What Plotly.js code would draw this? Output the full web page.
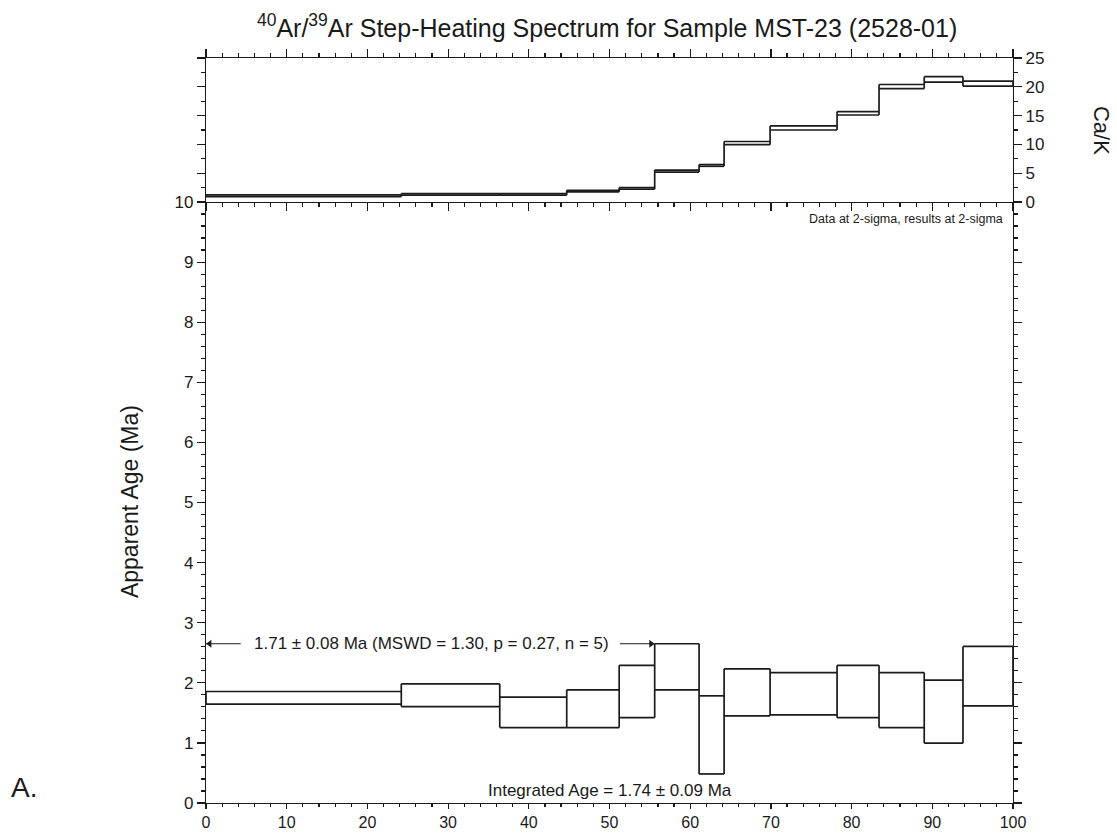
<!DOCTYPE html>
<html>
<head>
<meta charset="utf-8">
<script src="https://cdn.plot.ly/plotly-3.0.1.min.js"></script>
<style>
  html, body { margin: 0; padding: 0; background: #fff; }
  #chart { width: 1117px; height: 834px; }
</style>
</head>
<body>
<div id="chart"></div>
<script>
// Cumulative %39Ar released: step edges (13 heating steps)
const cumArEdges = [0, 24.2, 36.4, 44.7, 51.2, 55.6, 61.1, 64.2, 69.9, 78.2, 83.4, 89.0, 93.8, 100];

// Apparent age (Ma), 2-sigma upper and lower bounds per step
const ageHigh = [1.855, 1.983, 1.76, 1.883, 2.29, 2.65, 1.783, 2.233, 2.17, 2.29, 2.17, 2.045, 2.605];
const ageLow  = [1.645, 1.605, 1.255, 1.255, 1.42, 1.883, 0.483, 1.45, 1.467, 1.42, 1.255, 0.995, 1.617];

// Ca/K ratio, upper and lower bounds per step
const caKHigh = [1.22, 1.47, 1.47, 2.04, 2.52, 5.55, 6.5, 10.5, 13.2, 15.7, 20.4, 21.75, 21.0];
const caKLow  = [0.94, 1.19, 1.19, 1.76, 2.22, 5.2, 6.2, 9.95, 12.5, 15.1, 19.7, 20.8, 20.1];

// Plateau steps (indices) and summary text
const plateauSteps = [0, 1, 2, 3, 4];
const plateauLabel = "1.71 ± 0.08 Ma (MSWD = 1.30, p = 0.27, n = 5)";
const integratedLabel = "Integrated Age = 1.74 ± 0.09 Ma";
const noteLabel = "Data at 2-sigma, results at 2-sigma";

const xTicks = [0, 10, 20, 30, 40, 50, 60, 70, 80, 90, 100];
const ageTicks = [0, 1, 2, 3, 4, 5, 6, 7, 8, 9, 10];
const caKTicks = [0, 5, 10, 15, 20, 25];

// Build a spectrum outline: horizontal top/bottom for each step,
// vertical connectors at each edge spanning adjacent bounds.
function spectrumPath(edges, hi, lo) {
  const xs = [], ys = [];
  const n = hi.length;
  for (let i = 0; i < n; i++) {
    xs.push(edges[i], edges[i + 1], null);
    ys.push(hi[i], hi[i], null);
    xs.push(edges[i], edges[i + 1], null);
    ys.push(lo[i], lo[i], null);
  }
  for (let k = 0; k <= n; k++) {
    const vals = [];
    if (k > 0) vals.push(hi[k - 1], lo[k - 1]);
    if (k < n) vals.push(hi[k], lo[k]);
    xs.push(edges[k], edges[k], null);
    ys.push(Math.min(...vals), Math.max(...vals), null);
  }
  return { xs, ys };
}

const agePath = spectrumPath(cumArEdges, ageHigh, ageLow);
const caKPath = spectrumPath(cumArEdges, caKHigh, caKLow);

const ink = '#1a1a1a';
const font = "'Liberation Sans', Arial, Helvetica, sans-serif";
const lineStyle = { color: ink, width: 1.7 };

// Plateau span and arrow level
const plateauStart = cumArEdges[plateauSteps[0]];
const plateauEnd = cumArEdges[plateauSteps[plateauSteps.length - 1] + 1];
const arrowY = Math.max(...ageHigh);
const arrowLen = 4.3;

const traces = [
  {
    x: agePath.xs, y: agePath.ys, type: 'scatter', mode: 'lines',
    line: lineStyle, xaxis: 'x', yaxis: 'y', hoverinfo: 'skip', connectgaps: false
  },
  {
    x: caKPath.xs, y: caKPath.ys, type: 'scatter', mode: 'lines',
    line: lineStyle, xaxis: 'x2', yaxis: 'y2', hoverinfo: 'skip', connectgaps: false
  },
  // plateau arrow shafts
  {
    x: [plateauStart, plateauStart + arrowLen, null, plateauEnd - arrowLen, plateauEnd],
    y: [arrowY, arrowY, null, arrowY, arrowY],
    type: 'scatter', mode: 'lines', line: { color: ink, width: 1.1 },
    xaxis: 'x', yaxis: 'y', hoverinfo: 'skip', cliponaxis: false
  },
  // plateau arrow heads
  {
    x: [plateauStart + 0.45, plateauEnd - 0.45],
    y: [arrowY, arrowY],
    type: 'scatter', mode: 'markers',
    marker: { symbol: ['triangle-left', 'triangle-right'], size: 7, color: ink },
    xaxis: 'x', yaxis: 'y', hoverinfo: 'skip', cliponaxis: false
  }
];

const split = 601 / 745;

const axisCommon = {
  showline: true, linecolor: ink, linewidth: 1.2,
  showgrid: false, zeroline: false,
  ticks: 'outside', tickcolor: ink, tickwidth: 1.2, ticklen: 8,
  tickfont: { family: font, size: 17, color: ink }
};
const minorCommon = { ticklen: 4, tickwidth: 1.2, tickcolor: ink, ticks: 'outside' };

const layout = {
  width: 1117, height: 834,
  margin: { l: 206, r: 104, t: 58, b: 31 },
  paper_bgcolor: '#ffffff', plot_bgcolor: '#ffffff',
  showlegend: false,
  title: {
    text: '<sup>40</sup>Ar/<sup>39</sup>Ar Step-Heating Spectrum for Sample MST-23 (2528-01)',
    font: { family: font, size: 25, color: ink },
    x: 0.497, xanchor: 'center', xref: 'paper',
    y: 1 - 28 / 834, yanchor: 'middle', yref: 'container'
  },
  xaxis: Object.assign({}, axisCommon, {
    domain: [0, 1], anchor: 'y', range: [0, 100],
    tickvals: xTicks, mirror: false, ticklen: 5,
    tickfont: { family: font, size: 16, color: ink },
    minor: Object.assign({ dtick: 2 }, minorCommon, { ticklen: 3 })
  }),
  yaxis: Object.assign({}, axisCommon, {
    domain: [0, split], anchor: 'x', range: [0, 10],
    tickvals: ageTicks, mirror: 'ticks',
    minor: Object.assign({ dtick: 0.2 }, minorCommon)
  }),
  xaxis2: Object.assign({}, axisCommon, {
    domain: [0, 1], anchor: 'y2', range: [0, 100],
    tickvals: xTicks, showticklabels: false, mirror: 'ticks',
    minor: Object.assign({ dtick: 2 }, minorCommon)
  }),
  yaxis2: Object.assign({}, axisCommon, {
    domain: [split, 1], anchor: 'x2', range: [0, 25], side: 'right',
    tickvals: caKTicks, mirror: 'ticks',
    minor: Object.assign({ dtick: 2.5 }, minorCommon)
  }),
  annotations: [
    {
      text: 'Apparent Age (Ma)', xref: 'paper', yref: 'paper',
      x: -0.113, y: 0.405, textangle: -90, showarrow: false,
      font: { family: font, size: 23, color: ink }
    },
    {
      text: 'Ca/K', xref: 'paper', yref: 'paper',
      x: 1.128, y: 0.938, textangle: 90, showarrow: false,
      font: { family: font, size: 22, color: ink }
    },
    {
      text: 'A.', xref: 'paper', yref: 'paper',
      x: -0.244, y: -0.003, showarrow: false,
      font: { family: font, size: 28, color: ink }
    },
    {
      text: noteLabel, xref: 'x', yref: 'y',
      x: 99, y: 9.72, xanchor: 'right', showarrow: false,
      font: { family: font, size: 12.5, color: ink }
    },
    {
      text: plateauLabel, xref: 'x', yref: 'y',
      x: (plateauStart + plateauEnd) / 2 + 0.2, y: arrowY, showarrow: false,
      font: { family: font, size: 17, color: ink }
    },
    {
      text: integratedLabel, xref: 'x', yref: 'y',
      x: 50, y: 0.2, showarrow: false,
      font: { family: font, size: 17, color: ink }
    }
  ]
};

Plotly.newPlot('chart', traces, layout, { staticPlot: true, displayModeBar: false });
</script>
</body>
</html>
